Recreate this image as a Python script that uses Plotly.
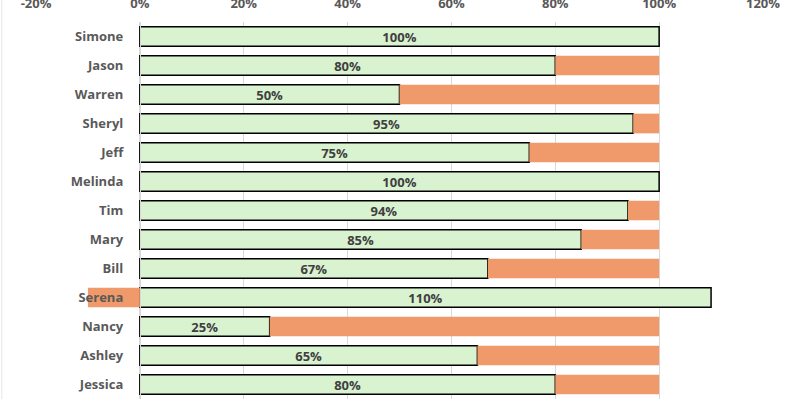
import plotly.graph_objects as go

names = ["Simone", "Jason", "Warren", "Sheryl", "Jeff", "Melinda", "Tim",
         "Mary", "Bill", "Serena", "Nancy", "Ashley", "Jessica"]
scores = [1.00, 0.80, 0.50, 0.95, 0.75, 1.00, 0.94, 0.85, 0.67, 1.10, 0.25, 0.65, 0.80]
# gap to target (100%); negative when over target
gaps = [round(1.0 - s, 2) for s in scores]

x_ticks = [-0.2, 0.0, 0.2, 0.4, 0.6, 0.8, 1.0, 1.2]
x_tick_labels = ["-20%", "0%", "20%", "40%", "60%", "80%", "100%", "120%"]

FONT = "Open Sans"
GREY = "#595959"

fig = go.Figure()
fig.add_trace(
    go.Bar(
        y=names,
        x=scores,
        orientation="h",
        marker=dict(color="#D9F2D0", line=dict(color="#000000", width=1.5)),
        text=[f"{s:.0%}" for s in scores],
        textposition="inside",
        insidetextanchor="middle",
        textangle=0,
        textfont=dict(family=FONT, size=13, color="#3F3F3F", weight="bold"),
        width=0.68,
        showlegend=False,
    )
)
fig.add_trace(
    go.Bar(
        y=names,
        x=gaps,
        orientation="h",
        marker=dict(color="#F0996B", line=dict(width=0)),
        width=0.68,
        showlegend=False,
    )
)

x_min, x_max = x_ticks[0], x_ticks[-1]
fig.update_layout(
    width=800,
    height=400,
    barmode="relative",
    plot_bgcolor="white",
    paper_bgcolor="white",
    margin=dict(l=36, r=37, t=22, b=1),
    font=dict(family=FONT, color=GREY),
    uniformtext=dict(minsize=13, mode="show"),
    xaxis=dict(
        side="top",
        range=[x_min, x_max],
        tickvals=x_ticks,
        ticktext=x_tick_labels,
        showgrid=True,
        gridcolor="#D9D9D9",
        gridwidth=1,
        zeroline=False,
        showline=False,
        ticks="",
        automargin=False,
        ticklabelstandoff=10,
        tickfont=dict(family=FONT, size=13, color=GREY, weight="bold"),
    ),
    yaxis=dict(
        autorange="reversed",
        anchor="free",
        position=(0 - x_min) / (x_max - x_min),
        showgrid=False,
        showline=True,
        linecolor="#D9D9D9",
        linewidth=1,
        ticks="",
        automargin=False,
        ticklabelstandoff=14,
        tickfont=dict(family=FONT, size=13, color=GREY, weight="bold"),
    ),
    shapes=[
        dict(type="line", xref="paper", yref="paper", x0=-0.047, x1=-0.047,
             y0=0, y1=1.06, line=dict(color="#E6E6E6", width=1)),
    ],
)

# drop the page's default body margin so the figure sits at the top-left corner
fig.write_html(
    "out.html",
    config={"displayModeBar": False},
    post_script="document.body.style.margin = '0';",
)
